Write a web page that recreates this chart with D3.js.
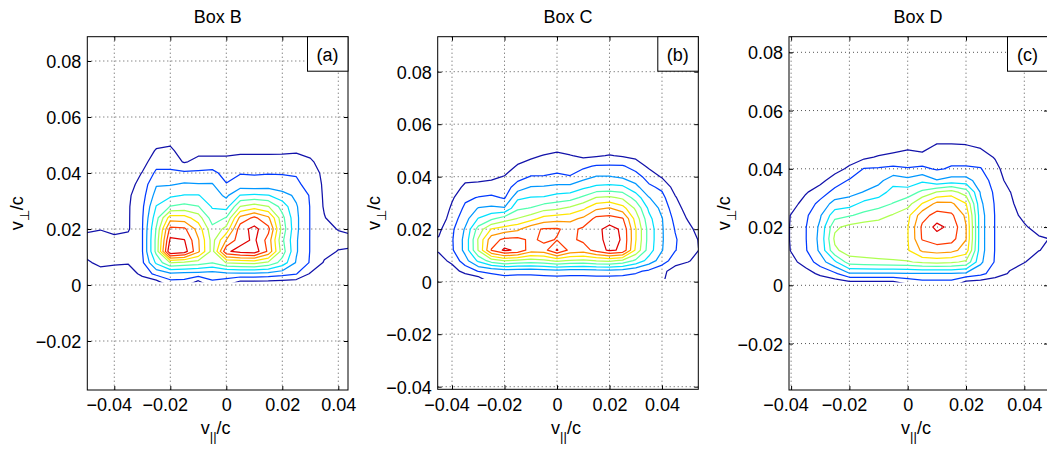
<!DOCTYPE html>
<html><head><meta charset="utf-8">
<script src="https://cdn.jsdelivr.net/npm/d3@7"></script>
<style>
body{margin:0;background:#fff;}
svg{display:block;}
text{font-family:"Liberation Sans",Arial,Helvetica,sans-serif;fill:#000;}
</style></head><body>
<svg id="chart" width="1047" height="452"></svg>
<script>
// ---------- DATA ----------
// grid of the distribution (v_par columns, v_perp rows)
const gridX = [-0.055,-0.05,-0.045,-0.04,-0.035,-0.03,-0.025,-0.02,-0.015,-0.01,-0.005,0,0.005,0.01,0.015,0.02,0.025,0.03,0.035,0.04,0.045,0.05,0.055,0.06];
const gridY = [0,0.004,0.008,0.012,0.016,0.02,0.024,0.028,0.032,0.036,0.04,0.044,0.048,0.052,0.056];
const levels = [1,2,3,4,5,6,7,8,9,10];
const dataEdgeY = 0.001;   // lowest v_perp bin of the measured distribution

const titles = ["Box B","Box C","Box D"];
const tags = ["(a)","(b)","(c)"];
const xTicks = [-0.04,-0.02,0,0.02,0.04];
const yTicksA = [-0.02,0,0.02,0.04,0.06,0.08];
const yTicksB = [-0.04,-0.02,0,0.02,0.04,0.06,0.08];
const yTicksC = [-0.02,0,0.02,0.04,0.06,0.08];
const xLimA = [-0.04964,0.04346], yLimA = [-0.0375,0.08868];
const xLimB = [-0.04545,0.05383], yLimB = [-0.0410,0.09333];
const xLimC = [-0.04072,0.04813], yLimC = [-0.03595,0.08536];

// level values per column (column = one gridX value, entries follow gridY)
const levelGridA = [
 [0,0,0.8,1.3,1.3,0.8,0,0,0,0,0,0,0,0,0],
 [0,0,0.8,1.4,1.4,0.8,0,0,0,0,0,0,0,0,0],
 [0,0.5,1.3,1.6,1.5,0.95,0.3,0,0,0,0,0,0,0,0],
 [0,0.5,1.15,1.5,1.3,0.7,0.3,0,0,0,0,0,0,0,0],
 [0,0.4,1.1,1.6,1.3,0.9,0.9,0.9,0.85,0.6,0.3,0.1,0,0,0],
 [0,1.3,1.8,1.95,1.95,1.95,1.9,1.8,1.6,1.4,1.05,0.6,0.3,0,0],
 [0,2.3,4.2,5.3,5.3,5.1,4.6,4.05,3.4,2.9,2.2,1.6,1.1,0.5,0],
 [1.3,2.8,6.05,11,10.2,9.3,7.5,5.05,3.8,2.9,2.2,1.6,1.2,0.7,0],
 [1.3,2.7,5.8,10.5,10.05,9.2,7.4,5.3,4.05,3.1,2.2,0.9,0.5,0.2,0],
 [0,2.6,5.5,8.2,8.1,7.6,6.5,5.05,4.05,3.05,2.2,1.3,0.7,0.2,0],
 [1.6,2.5,5.05,5.6,5.6,5.3,4.5,3.9,3.5,3.05,2.3,1.3,0.7,0.2,0],
 [1.05,2.7,6.05,9.8,8.05,6.3,5.05,3.6,2.8,2.05,1.6,1.3,0.7,0.2,0],
 [0,2.8,6.2,10.4,9.6,9.6,8.3,6.05,4.05,2.4,1.95,1.4,0.8,0.2,0],
 [0,2.8,6.3,10.6,10.2,10.3,9.2,6.5,4.2,2.2,1.95,1.4,0.8,0.2,0],
 [0,2.7,5.8,8.8,8.6,9.3,8.2,6.05,4.05,2.4,1.95,1.4,0.8,0.2,0],
 [0,2.4,4.6,5.5,5.2,5.6,5.3,4.6,3.4,2.3,1.95,1.45,0.8,0.2,0],
 [0,2.05,2.9,3.1,3.1,3.2,3.2,3.1,2.8,2.1,1.95,1.5,0.85,0.2,0],
 [0,0.9,1.9,1.95,1.95,1.95,1.95,1.95,1.9,1.8,1.6,1.2,0.6,0,0],
 [0,0.3,0.9,1.3,1.4,1.3,1.05,0.9,0.85,0.8,0.7,0.4,0,0,0],
 [0,0,0.5,0.95,1.3,0.95,0.5,0.2,0,0,0,0,0,0,0],
 [0,0,0.3,0.9,1.2,0.8,0.3,0,0,0,0,0,0,0,0],
 [0,0,0.2,0.8,1.05,0.6,0.2,0,0,0,0,0,0,0,0],
 [0,0,0,0.5,0.7,0.4,0,0,0,0,0,0,0,0,0],
 [0,0,0,0,0,0,0,0,0,0,0,0,0,0,0]
];
const levelGridB = [
 [0,0,0,0,0,0,0,0,0,0,0,0,0,0,0],
 [0,0,0.4,0.8,0.8,0.4,0,0,0,0,0,0,0,0,0],
 [0,0,0.7,1.1,1.1,0.8,0.3,0,0,0,0,0,0,0,0],
 [0,0.6,1.2,1.85,1.9,1.8,1.5,1.2,0.85,0.5,0.2,0,0,0,0],
 [0,1.3,2.6,3.3,3.3,3.1,2.6,2.2,1.8,1.2,0.7,0.3,0,0,0],
 [0,2.05,4.2,6.05,6.1,5.4,4.05,3.05,2.05,1.3,0.7,0.2,0,0,0],
 [1.3,2.2,5.5,9.05,8.6,7.05,4.8,3.2,2.2,1.4,0.8,0.3,0,0,0],
 [1.3,2.5,6.05,10.2,9.2,7.5,5.5,3.1,1.9,1.5,1.05,0.5,0,0,0],
 [1.3,2.4,5.8,9.8,9.3,7.8,6.05,4.8,3.8,2.5,1.6,1.1,0.5,0,0],
 [1.3,2.4,5.6,8.5,8.8,8.7,6.6,5.05,4.05,3.05,2.05,1.4,0.8,0.2,0],
 [1.3,2.5,5.8,8.6,9.2,9.1,7.4,5.6,4.1,3.1,2.05,1.6,1.05,0.4,0],
 [1.3,2.6,6.2,10.1,8.95,9.1,7.6,5.8,4.4,3.3,2.1,1.8,1.3,0.4,0],
 [1.3,2.5,5.9,8.7,8.8,8.7,7.7,6.2,4.6,3.3,2.05,1.6,1.05,0.3,0],
 [1.3,2.5,5.8,8.5,9.2,9.2,8.2,6.8,5.2,3.8,2.6,1.8,0.8,0.2,0],
 [1.3,2.6,6.05,9.4,9.6,9.7,9.3,7.8,6.05,4.2,3.05,2.1,0.9,0.2,0],
 [1.3,2.6,6.2,10.2,10.4,10.4,9.4,8.05,6.2,4.3,3.05,2.1,1.05,0.3,0],
 [1.3,2.5,5.8,9.8,9.9,9.8,9.1,7.4,5.8,4.2,2.8,2.1,0.9,0.2,0],
 [1.3,2.2,4.8,6.8,7.05,7.05,6.6,5.8,4.6,3.3,2.4,1.6,0.7,0,0],
 [1.3,1.8,3.6,4.5,4.6,4.6,4.3,3.8,3.05,2.2,1.6,0.8,0.2,0,0],
 [1.2,1.3,2.5,3.05,3.1,3.1,3.05,2.7,2.3,1.8,0.9,0.4,0,0,0],
 [0,0.5,1.5,2.05,2.1,1.95,1.7,1.4,1.1,0.6,0.2,0,0,0,0],
 [0,0.3,1.1,1.4,1.4,1.3,0.9,0.6,0.2,0,0,0,0,0,0],
 [0,0,0.5,0.9,0.85,0.5,0.2,0,0,0,0,0,0,0,0],
 [0,0,0,0,0,0,0,0,0,0,0,0,0,0,0]
];
const levelGridC = [
 [0,0,0,0,0,0,0,0,0,0,0,0,0,0,0],
 [0,0,0,0,0,0,0,0,0,0,0,0,0,0,0],
 [0,0,0.1,0.2,0.2,0.2,0.2,0.1,0,0,0,0,0,0,0],
 [0,0.2,0.7,1.05,1.1,1.1,1.05,0.6,0.2,0,0,0,0,0,0],
 [0,0.6,1.4,1.9,1.95,1.95,1.8,1.4,0.9,0.4,0,0,0,0,0],
 [0,1.2,2.5,3.2,3.3,3.2,2.9,2.3,1.5,0.7,0.2,0,0,0,0],
 [0,1.8,3.8,5.8,6.2,5.8,4.6,3.4,2.3,1.5,0.6,0.1,0,0,0],
 [0,2.9,5.5,6.5,6.6,6.3,4.9,3.6,2.6,2.1,1.2,0.5,0,0,0],
 [0,2.9,5.6,6.6,6.8,6.5,5.3,4.3,3.05,2.3,2.05,0.8,0.2,0,0],
 [0,2.9,5.7,6.7,6.9,6.6,5.6,4.6,3.5,2.7,2.1,1.1,0.3,0,0],
 [0,2.9,5.8,6.8,6.9,6.8,6.1,5.05,4.4,3.6,2.2,1.3,0.5,0,0],
 [0.8,2.9,5.9,6.9,6.95,6.95,6.7,5.6,4.5,3.3,2.05,1.5,0.7,0.1,0],
 [1.3,2.9,6.2,8.2,9.1,9.2,8.6,7.05,5.2,3.8,2.2,1.3,0.6,0,0],
 [1.3,2.9,6.3,8.5,9.5,10.3,9.4,8.3,6.05,3.05,1.9,1.6,1.1,0.4,0],
 [1.3,2.9,6.2,8.3,9.4,9.7,9.2,8.2,6.4,3.4,2.1,1.7,1.1,0.4,0],
 [0,2.8,5.8,7.6,8.05,8.05,7.8,7.05,5.5,3.4,2.1,1.7,1.05,0.3,0],
 [0,2.3,3.2,3.4,3.4,3.4,3.4,3.2,2.9,2.5,2.05,1.6,0.8,0.1,0],
 [0,1.5,1.9,1.95,1.95,1.95,1.95,1.9,1.8,1.6,1.4,0.9,0.3,0,0],
 [0,0.9,1.3,1.4,1.4,1.4,1.3,1.2,1.05,0.6,0.2,0,0,0,0],
 [0,0.3,1.05,1.2,1.2,1.1,0.8,0.5,0.2,0,0,0,0,0,0],
 [0,0,0.5,1.02,1.1,0.7,0.3,0,0,0,0,0,0,0,0],
 [0,0,0.2,0.8,0.95,0.5,0.1,0,0,0,0,0,0,0,0],
 [0,0,0,0,0,0,0,0,0,0,0,0,0,0,0],
 [0,0,0,0,0,0,0,0,0,0,0,0,0,0,0]
];

// ---------- STYLE / LAYOUT ----------
const levelColors = ["rgb(18,18,170)","rgb(0,58,255)","rgb(0,151,255)","rgb(0,225,255)","rgb(81,255,174)",
                     "rgb(174,255,81)","rgb(255,230,0)","rgb(255,151,0)","rgb(255,58,0)","rgb(225,0,0)"];
const layout = [
  {left:87.3, right:348, top:36.7, bottom:390, yLabelX:23.3},
  {left:437.7, right:698.3, top:36.7, bottom:389.3, yLabelX:380},
  {left:789, right:1048, top:36.7, bottom:390, yLabelX:730}
];
const panels = [
  {title:titles[0], tag:tags[0], xLim:xLimA, yLim:yLimA, yTicks:yTicksA, grid:levelGridA},
  {title:titles[1], tag:tags[1], xLim:xLimB, yLim:yLimB, yTicks:yTicksB, grid:levelGridB},
  {title:titles[2], tag:tags[2], xLim:xLimC, yLim:yLimC, yTicks:yTicksC, grid:levelGridC}
];
const FONT = 18;
const svg = d3.select("#chart");
const fmt = t => t === 0 ? "0" : (t < 0 ? "\u2212" : "") + Math.abs(t).toFixed(2);
const line = d3.line();

panels.forEach((p, idx) => {
  const L = layout[idx];
  const x = d3.scaleLinear().domain(p.xLim).range([L.left, L.right]);
  const y = d3.scaleLinear().domain(p.yLim).range([L.bottom, L.top]);
  const g = svg.append("g");
  const clipId = "clip" + idx;
  // contours only exist where the distribution was measured (v_perp above the first bin)
  svg.append("clipPath").attr("id", clipId).append("rect")
    .attr("x", L.left).attr("y", L.top).attr("width", L.right - L.left).attr("height", y(dataEdgeY) - L.top);

  // dotted grid
  const grid = g.append("g").attr("stroke", "#555").attr("stroke-width", 1).attr("stroke-dasharray", "1,3");
  xTicks.forEach(t => grid.append("line").attr("x1", x(t)).attr("x2", x(t)).attr("y1", L.top).attr("y2", L.bottom));
  p.yTicks.forEach(t => grid.append("line").attr("y1", y(t)).attr("y2", y(t)).attr("x1", L.left).attr("x2", L.right));

  // contours
  const nx = gridX.length, ny = gridY.length;
  const values = new Array(nx * ny);
  p.grid.forEach((col, i) => col.forEach((v, j) => { values[i + j * nx] = v; }));
  const gx = d3.scaleLinear().domain([0.5, nx - 0.5]).range([gridX[0], gridX[nx - 1]]);
  const gy = d3.scaleLinear().domain([0.5, ny - 0.5]).range([gridY[0], gridY[ny - 1]]);
  const cs = d3.contours().size([nx, ny]).thresholds(levels)(values);
  const cg = g.append("g").attr("clip-path", `url(#${clipId})`).attr("fill", "none")
    .attr("stroke-width", 1.25).attr("stroke-linejoin", "round");
  cs.forEach((c, k) => {
    c.coordinates.forEach(poly => poly.forEach(ring => {
      cg.append("path").attr("stroke", levelColors[k])
        .attr("d", line(ring.map(pt => [x(gx(pt[0])), y(gy(pt[1]))])) + "Z");
    }));
  });

  // axes (ticks inside on all sides)
  const ax = g.append("g").attr("transform", `translate(0,${L.bottom})`)
    .call(d3.axisBottom(x).tickValues(xTicks).tickSize(-4).tickPadding(8.7).tickFormat(fmt));
  ax.selectAll("text").attr("dx", d => d < 0 ? -5.5 : 0);
  const ay = g.append("g").attr("transform", `translate(${L.left},0)`)
    .call(d3.axisLeft(y).tickValues(p.yTicks).tickSize(-4).tickPadding(6).tickFormat(fmt));
  ay.selectAll("text").attr("dy", 6.5);
  const at = g.append("g").attr("transform", `translate(0,${L.top})`)
    .call(d3.axisTop(x).tickValues(xTicks).tickSize(-4).tickFormat(""));
  const ar = g.append("g").attr("transform", `translate(${L.right},0)`)
    .call(d3.axisRight(y).tickValues(p.yTicks).tickSize(-4).tickFormat(""));
  [ax, ay, at, ar].forEach(a => {
    a.select(".domain").remove();
    a.attr("font-size", FONT).attr("font-family", "Liberation Sans, Arial, sans-serif");
    a.selectAll("line").attr("stroke", "#000");
  });

  // frame
  g.append("rect").attr("x", L.left).attr("y", L.top).attr("width", L.right - L.left).attr("height", L.bottom - L.top)
    .attr("fill", "none").attr("stroke", "#000").attr("stroke-width", 1);

  // panel tag box
  g.append("rect").attr("x", L.right - 40.5).attr("y", L.top).attr("width", 40.5).attr("height", 34.5)
    .attr("fill", "#fff").attr("stroke", "#000").attr("stroke-width", 1);
  g.append("text").attr("x", L.right - 20.5).attr("y", L.top + 24.5).attr("text-anchor", "middle")
    .attr("font-size", FONT).text(p.tag);

  // title
  const cx = (L.left + Math.min(L.right, 1047)) / 2;
  g.append("text").attr("x", cx).attr("y", 22.5).attr("text-anchor", "middle").attr("font-size", FONT).text(p.title);

  // x label v_||/c
  const xl = g.append("text").attr("x", cx - 2).attr("y", 434).attr("text-anchor", "middle").attr("font-size", FONT);
  xl.append("tspan").text("v");
  xl.append("tspan").attr("dy", 7).attr("font-size", 13).text("||");
  xl.append("tspan").attr("dy", -7).text("/c");

  // y label v_perp/c
  const cy = (L.top + L.bottom) / 2;
  const yl = g.append("text").attr("transform", `translate(${L.yLabelX},${cy}) rotate(-90)`)
    .attr("text-anchor", "middle").attr("font-size", FONT);
  yl.append("tspan").text("v");
  yl.append("tspan").attr("dy", 6).attr("font-size", 13).text("\u22A5");
  yl.append("tspan").attr("dy", -6).text("/c");
});
</script>
</body></html>
